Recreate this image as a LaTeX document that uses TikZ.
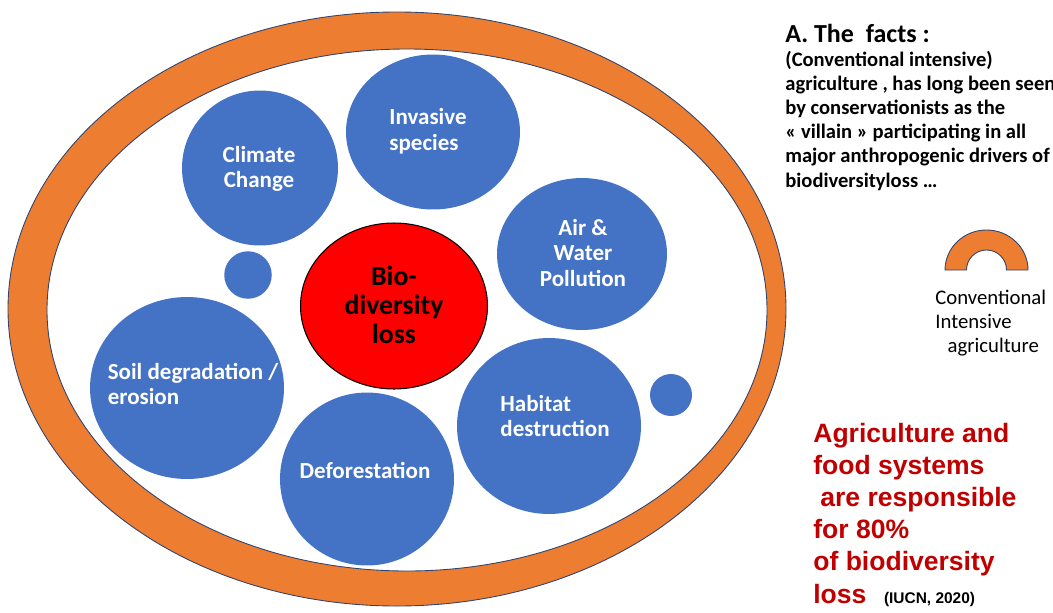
\documentclass[tikz,border=0pt]{standalone}
\usepackage{fontspec}
\setmainfont{Carlito}
\newfontfamily\arialfont{Liberation Sans}
\usetikzlibrary{shapes.geometric}

\definecolor{ringorange}{RGB}{237,125,49}
\definecolor{blobblue}{RGB}{68,114,196}
\definecolor{edgeblue}{RGB}{47,68,110}
\definecolor{lossred}{RGB}{192,0,0}

\tikzset{
  blob/.style={ellipse, fill=blobblue, inner sep=0pt},
  blobtext/.style={text=white, align=center, inner sep=0pt,
    font=\bfseries\fontsize{13.1}{14.6}\selectfont},
}

\begin{document}
\begin{tikzpicture}[x=0.02cm, y=0.02cm]
    \useasboundingbox (0,0) rectangle (1053,-612);
    % ring of agriculture round the drivers
    \draw[edgeblue, fill=ringorange, even odd rule, line width=0.5pt]
        (397,-309) ellipse (389 and 297) (407,-310) ellipse (360 and 261);

    % drivers
    \node[blob, minimum width=3.12cm, minimum height=3.10cm] (climate) at (260,-168) {};
    \node[blob, minimum width=3.48cm, minimum height=3.10cm] (invasive) at (433,-132) {};
    \node[blob, minimum width=3.40cm, minimum height=3.04cm] (pollution) at (582,-254) {};
    \node[blob, minimum width=3.88cm, minimum height=3.64cm] (soil) at (187,-388) {};
    \node[blob, minimum width=3.48cm, minimum height=3.46cm] (forest) at (367,-479) {};
    \node[blob, minimum width=3.68cm, minimum height=3.52cm] (habitat) at (549,-426) {};
    \foreach \name/\cx/\cy/\d in {dotl/248/275/0.95, dotr/671/395/0.84}
        \node[blob, minimum size=\d cm] (\name) at (\cx,-\cy) {};

    \node[blobtext] (climatetxt) at (259,-169) {Climate\\Change};
    \node[blobtext, align=left] (invasivetxt) at (428,-131) {Invasive\\species};
    \node[blobtext] (pollutiontxt) at (583,-253) {Air \&\\Water\\Pollution};
    \node[blobtext, align=left] (soiltxt) at (193,-384) {Soil degradation /\\erosion};
    \node[blobtext] (foresttxt) at (365,-470) {Deforestation};
    \node[blobtext, align=left] (habitattxt) at (555,-416) {Habitat\\destruction};

    % biodiversity loss in the middle
    \node[ellipse, fill=red, draw=black, line width=0.6pt, inner sep=0pt,
        minimum width=3.74cm, minimum height=3.32cm] (bio) at (394,-306) {};
    \node[align=center, inner sep=0pt, font=\bfseries\fontsize{15.8}{16.6}\selectfont]
        (biotxt) at (394,-305) {Bio-\\diversity\\loss};

    % the facts (base is the last line)
    \node[anchor=base west, inner sep=0pt, font=\bfseries\fontsize{14.8}{17}\selectfont]
        (facts) at (785,-42) {A. The\ \ facts :};
    \node[anchor=base west, align=left, inner sep=0pt, font=\bfseries\fontsize{11.7}{13.7}\selectfont]
        (factstxt) at (785,-187) {(Conventional intensive)\\agriculture , has long been seen\\by conservationists as the\\« villain » participating in all\\major anthropogenic drivers of\\biodiversityloss …};

    % legend arch
    \draw[edgeblue, fill=ringorange, line width=0.5pt]
        (945,-270) arc (180:0:41.5 and 40) -- (1006.5,-270) arc (0:180:20) -- cycle;
    \node[anchor=base west, align=left, inner sep=0pt, font=\fontsize{11.8}{13.5}\selectfont]
        (agri) at (935,-352) {Conventional\\Intensive\\\hspace{7pt}agriculture};

    % 80 percent
    \node[anchor=base west, align=left, inner sep=0pt, text=lossred,
        font=\arialfont\bfseries\fontsize{15.1}{18.3}\selectfont]
        (share) at (813,-603) {Agriculture and\\food systems\\\hspace{4pt}are responsible\\for 80\%\\of biodiversity\\loss\hspace{10pt}{\color{black}\fontsize{8.8}{10}\selectfont(IUCN, 2020)}};
\end{tikzpicture}
\end{document}
